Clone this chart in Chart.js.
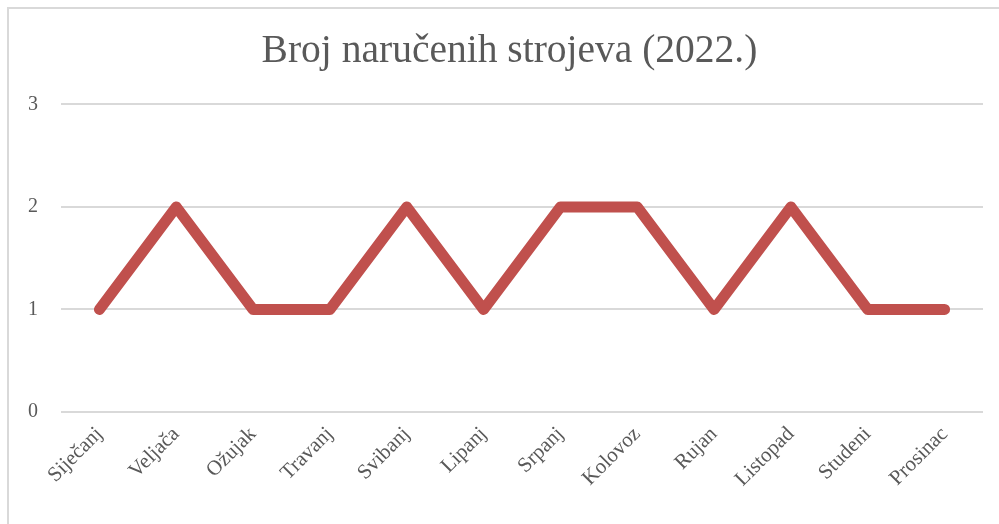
<!DOCTYPE html>
<html>
<head>
<meta charset="utf-8">
<script src="https://cdn.jsdelivr.net/npm/chart.js@4/dist/chart.umd.min.js"></script>
<style>
  html, body { margin: 0; padding: 0; background: #fff; overflow: hidden; }
  #wrap { position: relative; width: 999px; height: 524px; overflow: hidden; }
  #frame { position: absolute; left: 7px; top: 7px; width: 1100px; height: 600px;
           border-left: 2px solid #d9d9d9; border-top: 2px solid #d9d9d9; box-sizing: border-box; }
  canvas { position: absolute; left: 0; top: 0; }
</style>
</head>
<body>
<div id="wrap">
  <!-- the chart frame runs past the right and bottom edges of the view -->
  <div id="frame"></div>
  <canvas id="c" width="999" height="524"></canvas>
</div>
<script>
const chartTitle = 'Broj naručenih strojeva (2022.)';
const months = ['Siječanj', 'Veljača', 'Ožujak', 'Travanj', 'Svibanj', 'Lipanj',
                'Srpanj', 'Kolovoz', 'Rujan', 'Listopad', 'Studeni', 'Prosinac'];
const orders = [1, 2, 1, 1, 2, 1, 2, 2, 1, 2, 1, 1];
const yTicks = [0, 1, 2, 3];

const serif = "'Liberation Serif', 'DejaVu Serif', serif";

// Nudge the title block so it is centred over the whole frame rather than the canvas.
const titleShift = {
  id: 'titleShift',
  afterLayout(chart) {
    const t = chart.titleBlock;
    if (t) { t.left += 18; t.right += 18; }
  }
};

new Chart(document.getElementById('c'), {
  type: 'line',
  data: {
    labels: months,
    datasets: [{
      data: orders,
      borderColor: '#c0504d',
      borderWidth: 11,
      borderCapStyle: 'round',
      borderJoinStyle: 'round',
      pointRadius: 0,
      tension: 0,
      fill: false
    }]
  },
  plugins: [titleShift],
  options: {
    responsive: false,
    animation: false,
    layout: { padding: { left: 0, right: 16, top: 0, bottom: 0 } },
    plugins: {
      legend: { display: false },
      tooltip: { enabled: false },
      title: {
        display: true,
        text: chartTitle,
        color: '#595959',
        font: { family: serif, size: 39.5, weight: 'normal', lineHeight: 1.2 },
        padding: { top: 28, bottom: 29 }
      }
    },
    scales: {
      x: {
        offset: true,
        grid: { display: false, drawTicks: false },
        border: { display: false },
        ticks: {
          color: '#595959',
          font: { family: serif, size: 21 },
          minRotation: 45,
          maxRotation: 45,
          autoSkip: false,
          padding: 10
        },
        afterFit(scale) { scale.height = 112; }
      },
      y: {
        min: 0,
        max: 3,
        afterBuildTicks(scale) { scale.ticks = yTicks.map(v => ({ value: v })); },
        grid: { color: '#d9d9d9', lineWidth: 2, drawTicks: false },
        border: { display: false },
        ticks: {
          color: '#595959',
          font: { family: serif, size: 20 },
          padding: 23
        },
        afterFit(scale) { scale.width = 61; }
      }
    }
  }
});
</script>
</body>
</html>
